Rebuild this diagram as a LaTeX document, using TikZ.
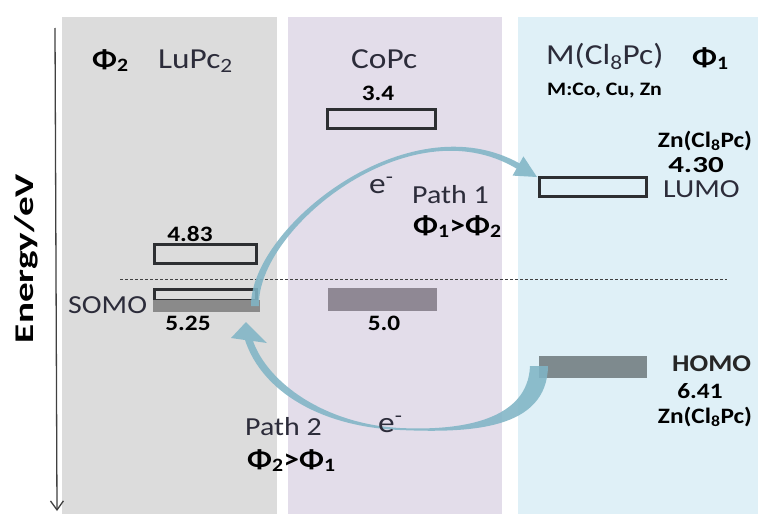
\documentclass[tikz,border=0pt]{standalone}
\usepackage{fontspec}
\setmainfont{Carlito}
\usetikzlibrary{arrows.meta}
\definecolor{panelgray}{RGB}{220,220,220}
\definecolor{panelpurple}{RGB}{227,221,234}
\definecolor{panelblue}{RGB}{223,240,247}
\definecolor{boxline}{RGB}{45,47,50}
\definecolor{barfillA}{RGB}{138,138,138}
\definecolor{barfillB}{RGB}{143,136,148}
\definecolor{barfillC}{RGB}{126,138,142}
\definecolor{labelcol}{RGB}{44,44,58}
\definecolor{arrowcol}{RGB}{128,181,198}
\newcommand\hstr[1]{\scalebox{1.15}[1]{#1}}
\tikzset{
  obox/.style={draw=boxline, line width=3pt, inner sep=0pt, outer sep=0pt},
  fbar/.style={inner sep=0pt, outer sep=0pt},
  big/.style={inner sep=0pt, text=labelcol, font=\fontsize{29}{31}\selectfont},
  mid/.style={inner sep=0pt, text=labelcol, font=\fontsize{26}{28}\selectfont},
  num/.style={inner sep=0pt, text=black, font=\bfseries\fontsize{22}{24}\selectfont},
  phil/.style={inner sep=0pt, text=black, font=\bfseries\fontsize{27}{29}\selectfont},
  elec/.style={inner sep=0pt, text=labelcol, font=\fontsize{29}{31}\selectfont},
  flow/.style={fill=arrowcol, fill opacity=0.88}
}
\begin{document}
\begin{tikzpicture}[x=1pt,y=-1pt]
\useasboundingbox (0,0) rectangle (758,514);
\fill[white] (0,0) rectangle (758,514);
% panels
\fill[panelgray] (62,17) rectangle (277,514);
\fill[panelpurple] (288,17) rectangle (502,514);
\fill[panelblue] (518,17) rectangle (758,514);

% energy axis
\coordinate (axtop) at (55,28);
\coordinate (axbot) at (57,511);
\draw[line width=1.3pt, draw=black!75, -{Straight Barb[length=9pt,width=13pt,line width=1.3pt]}] (axtop) -- (axbot);
\node[rotate=90, anchor=base, inner sep=0pt, font=\bfseries\fontsize{27}{29}\selectfont] (axislabel) at (33,258.5) {\scalebox{1.45}[1]{Energy/eV}};

% dashed reference line
\coordinate (dl) at (120,279);
\coordinate (dr) at (727,279);
\draw[line width=0.9pt, draw=black!75, dash pattern=on 3pt off 2pt] (dl) -- (dr);

% level boxes
\node[obox, minimum width=102pt, minimum height=19pt] (lu483) at (205.5,254) {};
\node[obox, minimum width=102pt, minimum height=11pt] (somo) at (205.5,295) {};
\node[fbar, fill=barfillA, minimum width=107pt, minimum height=12pt] (somobar) at (206.5,306) {};
\node[obox, minimum width=108pt, minimum height=19pt] (co34) at (381.5,119) {};
\node[fbar, fill=barfillB, minimum width=109pt, minimum height=23pt] (co50) at (382.5,299.5) {};
\node[obox, minimum width=107pt, minimum height=19pt] (lumo) at (593,187) {};
\node[fbar, fill=barfillC, minimum width=108pt, minimum height=22pt] (homo) at (593,367) {};

% Path 1 arrow (SOMO of LuPc2 -> LUMO)
\fill[flow] (251,306) .. controls (250,228) and (408,101) .. (519.5,163.4)
  -- (523.4,156.4) -- (537,177) -- (512.6,175.6) -- (516.5,168.6)
  .. controls (409,104) and (256,230) .. (259,306) -- cycle;
% Path 2 arrow (HOMO -> LuPc2)
\fill[flow] (548,366) .. controls (547,430) and (470,433) .. (400,430)
  .. controls (322,427) and (262,392) .. (245,340)
  -- (231,338) -- (246,322) -- (267,343) -- (253,341)
  .. controls (268,383) and (325,424) .. (400,428)
  .. controls (462,431) and (528,420) .. (530,366) -- cycle;

% titles
\node[phil, anchor=base west] (phi2) at (92,68) {\hstr{Φ\textsubscript{2}}};
\node[big, anchor=base west] (lupc) at (158,68) {\hstr{LuPc\textsubscript{2}}};
\node[big, anchor=base west] (copc) at (351,68) {\hstr{CoPc}};
\node[big, anchor=base west] (mpc) at (546,64) {\hstr{M(Cl\textsubscript{8}Pc)}};
\node[phil, anchor=base west] (phi1) at (692,66) {\hstr{Φ\textsubscript{1}}};
\node[inner sep=0pt, anchor=base west, font=\bfseries\fontsize{19}{21}\selectfont] (mlist) at (547,95) {\hstr{M:Co, Cu, Zn}};

% level labels
\node[num, anchor=base] (t34) at (378,100) {\hstr{3.4}};
\node[num, anchor=base] (t483) at (190,241) {\hstr{4.83}};
\node[mid, anchor=base west] (tsomo) at (68,313) {\hstr{SOMO}};
\node[num, anchor=base] (t525) at (188,330) {\hstr{5.25}};
\node[num, anchor=base] (t50) at (384,330) {\hstr{5.0}};
\node[inner sep=0pt, anchor=base, font=\bfseries\fontsize{22}{24}\selectfont] (zntop) at (705,147) {\hstr{Zn(Cl\textsubscript{8}Pc)}};
\node[inner sep=0pt, anchor=base, font=\bfseries\fontsize{23}{25}\selectfont] (t430) at (696,172) {\scalebox{1.35}[1]{4.30}};
\node[mid, anchor=base west] (tlumo) at (663,197) {\hstr{LUMO}};
\node[inner sep=0pt, anchor=base west, text=black!85, font=\bfseries\fontsize{24}{26}\selectfont] (thomo) at (672,371) {\hstr{HOMO}};
\node[num, anchor=base] (t641) at (700,398) {\hstr{6.41}};
\node[inner sep=0pt, anchor=base, font=\bfseries\fontsize{22}{24}\selectfont] (znbot) at (705,423) {\hstr{Zn(Cl\textsubscript{8}Pc)}};

% path labels
\node[elec, anchor=base west] (e1) at (369,193) {\hstr{e\textsuperscript{-}}};
\node[mid, anchor=base west] (p1) at (412,203) {\hstr{Path 1}};
\node[phil, anchor=base west] (c1) at (413,234) {\hstr{Φ\textsubscript{1}>Φ\textsubscript{2}}};
\node[elec, anchor=base west] (e2) at (378,432) {\hstr{e\textsuperscript{-}}};
\node[mid, anchor=base west] (p2) at (245,435) {\hstr{Path 2}};
\node[phil, anchor=base west] (c2) at (247,468) {\hstr{Φ\textsubscript{2}>Φ\textsubscript{1}}};
\end{tikzpicture}
\end{document}
